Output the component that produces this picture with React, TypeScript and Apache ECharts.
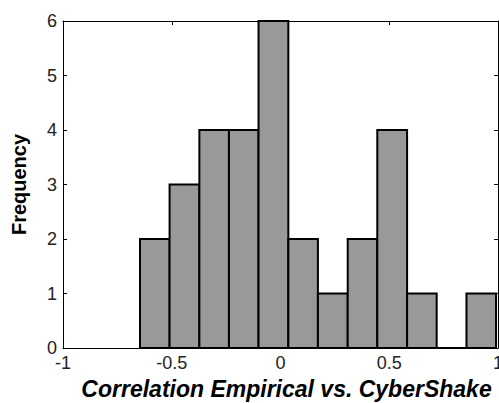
import React, { useEffect, useRef } from "react";
import * as echarts from "echarts";

const binEdges = [-0.646, -0.51, -0.373, -0.237, -0.101, 0.036, 0.172, 0.309, 0.445, 0.582, 0.718, 0.855, 0.991];
const counts = [2, 3, 4, 4, 6, 2, 1, 2, 4, 1, 0, 1];
const xTicks = [-1, -0.5, 0, 0.5, 1];
const yTicks = [0, 1, 2, 3, 4, 5, 6];
const xTitle = "Correlation Empirical vs. CyberShake";
const yTitle = "Frequency";

export default function App() {
  const ref = useRef<HTMLDivElement>(null);
  useEffect(() => {
    document.body.style.margin = "0";
    if (!ref.current) return;
    const chart = echarts.init(ref.current, null, { renderer: "svg" });
    const data = counts.map((c, i) => [binEdges[i], binEdges[i + 1], c]);
    const font = "'Liberation Sans', Arial, Helvetica, sans-serif";
    const baseX = {
      type: "value" as const,
      min: xTicks[0],
      max: xTicks[xTicks.length - 1],
      interval: 0.5,
      splitLine: { show: false },
      axisLine: { show: true, onZero: false, lineStyle: { color: "#000", width: 1 } },
      axisTick: { show: true, inside: true, length: 4, lineStyle: { color: "#000" } },
    };
    const baseY = {
      type: "value" as const,
      min: yTicks[0],
      max: yTicks[yTicks.length - 1],
      interval: 1,
      splitLine: { show: false },
      axisLine: { show: true, onZero: false, lineStyle: { color: "#000", width: 1 } },
      axisTick: { show: true, inside: true, length: 4, lineStyle: { color: "#000" } },
    };
    chart.setOption({
      animation: false,
      grid: { left: 63, top: 21, right: 1, bottom: 55, containLabel: false, outerBoundsMode: "none" },
      xAxis: [
        {
          ...baseX,
          position: "bottom",
          axisLabel: {
            fontFamily: font,
            fontSize: 18,
            color: "#222",
            margin: 6,
            hideOverlap: false,
            formatter: (v: number) => String(v),
          },
          name: xTitle,
          nameLocation: "middle",
          nameGap: 29,
          nameTextStyle: {
            fontFamily: font,
            fontSize: 23,
            fontWeight: "bold",
            fontStyle: "italic",
            color: "#000",
            padding: [0, 0, 0, 12],
          },
        },
        { ...baseX, position: "top", axisLabel: { show: false } },
      ],
      yAxis: [
        {
          ...baseY,
          position: "left",
          axisLabel: { fontFamily: font, fontSize: 18, color: "#222", margin: 6 },
          name: yTitle,
          nameLocation: "middle",
          nameRotate: 90,
          nameGap: 34,
          nameTextStyle: { fontFamily: font, fontSize: 20, fontWeight: "bold", color: "#000" },
        },
        { ...baseY, position: "right", axisLabel: { show: false } },
      ],
      series: [
        {
          type: "custom",
          xAxisIndex: 0,
          yAxisIndex: 0,
          data,
          encode: { x: [0, 1], y: 2 },
          renderItem: (params: any, api: any) => {
            const x0 = api.value(0);
            const x1 = api.value(1);
            const c = api.value(2);
            const p0 = api.coord([x0, c]);
            const p1 = api.coord([x1, 0]);
            return {
              type: "rect",
              shape: { x: p0[0], y: p0[1], width: p1[0] - p0[0], height: p1[1] - p0[1] },
              style: { fill: "#999999", stroke: "#000", lineWidth: 2 },
            };
          },
        },
      ],
    });
    return () => chart.dispose();
  }, []);
  return <div ref={ref} style={{ width: 499, height: 403 }} />;
}
